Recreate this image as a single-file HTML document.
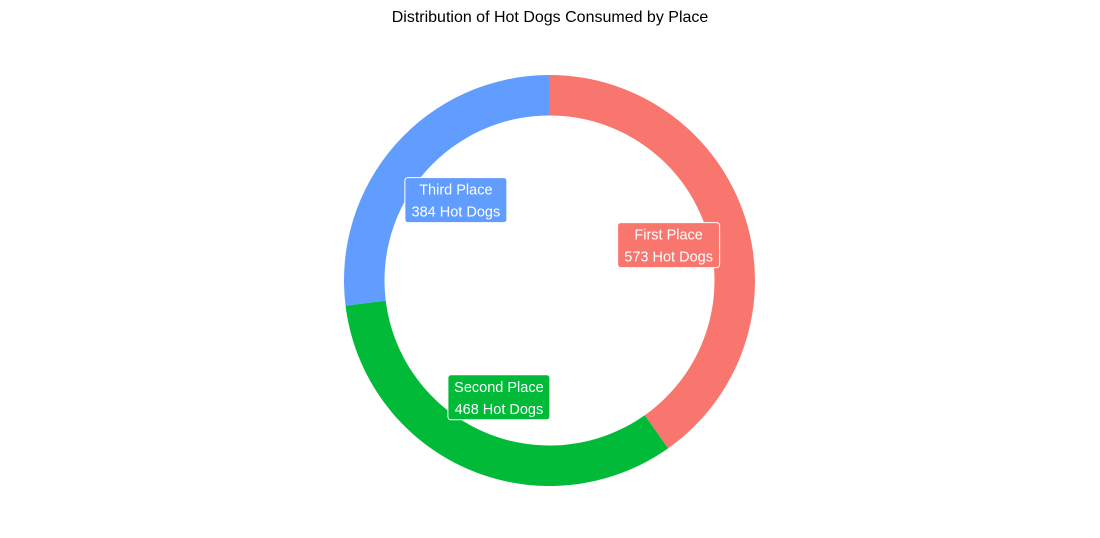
<!DOCTYPE html>
<html><head><meta charset="utf-8"><style>
html,body{margin:0;padding:0;background:#fff;}
svg{display:block;font-family:"Liberation Sans",Arial,sans-serif;}
</style></head><body>
<svg id="chart" width="1100" height="538">
<text x="550" y="22" text-anchor="middle" font-size="16" fill="#000">Distribution of Hot Dogs Consumed by Place</text>
<g id="slices"></g><g id="labels"></g>
</svg>
<script>
const categories = ["First Place", "Second Place", "Third Place"];
const values = [573, 468, 384];
const colors = ["#F8766D", "#00BA38", "#619CFF"];
const cx = 549.5, cy = 280.5, rOut = 205.5, rIn = 165, rLab = 125;
const total = values.reduce((a, b) => a + b, 0);
const NS = "http://www.w3.org/2000/svg";
const gS = document.getElementById("slices"), gL = document.getElementById("labels");
function pt(a, r) { return [cx + r * Math.sin(a), cy - r * Math.cos(a)]; }
let acc = 0;
values.forEach((v, i) => {
  const a0 = acc / total * 2 * Math.PI; acc += v;
  const a1 = acc / total * 2 * Math.PI;
  const large = (a1 - a0) > Math.PI ? 1 : 0;
  const [x0, y0] = pt(a0, rOut), [x1, y1] = pt(a1, rOut), [x2, y2] = pt(a1, rIn), [x3, y3] = pt(a0, rIn);
  const p = document.createElementNS(NS, "path");
  p.setAttribute("d", `M${x0},${y0}A${rOut},${rOut} 0 ${large} 1 ${x1},${y1}L${x2},${y2}A${rIn},${rIn} 0 ${large} 0 ${x3},${y3}Z`);
  p.setAttribute("fill", colors[i]);
  
  
  gS.appendChild(p);
  let [lx, ly] = pt((a0 + a1) / 2, rLab);
  ly += 3;
  const line2 = v + " Hot Dogs";
  const w = Math.max(categories[i].length, line2.length) * 7.5 + 12;
  const g = document.createElementNS(NS, "g");
  
  
  const r = document.createElementNS(NS, "rect");
  r.setAttribute("x", lx - w / 2); r.setAttribute("y", ly - 23);
  r.setAttribute("width", w); r.setAttribute("height", 45);
  r.setAttribute("rx", 3); r.setAttribute("fill", colors[i]);
  r.setAttribute("stroke", "#fff"); r.setAttribute("stroke-width", 1);
  g.appendChild(r);
  [categories[i], line2].forEach((s, k) => {
    const t = document.createElementNS(NS, "text");
    t.setAttribute("x", lx); t.setAttribute("y", ly - 6 + k * 22);
    t.setAttribute("text-anchor", "middle"); t.setAttribute("font-size", "14.5");
    t.setAttribute("fill", "#fff"); t.textContent = s;
    g.appendChild(t);
  });
  gL.appendChild(g);
});
</script>
</body></html>
